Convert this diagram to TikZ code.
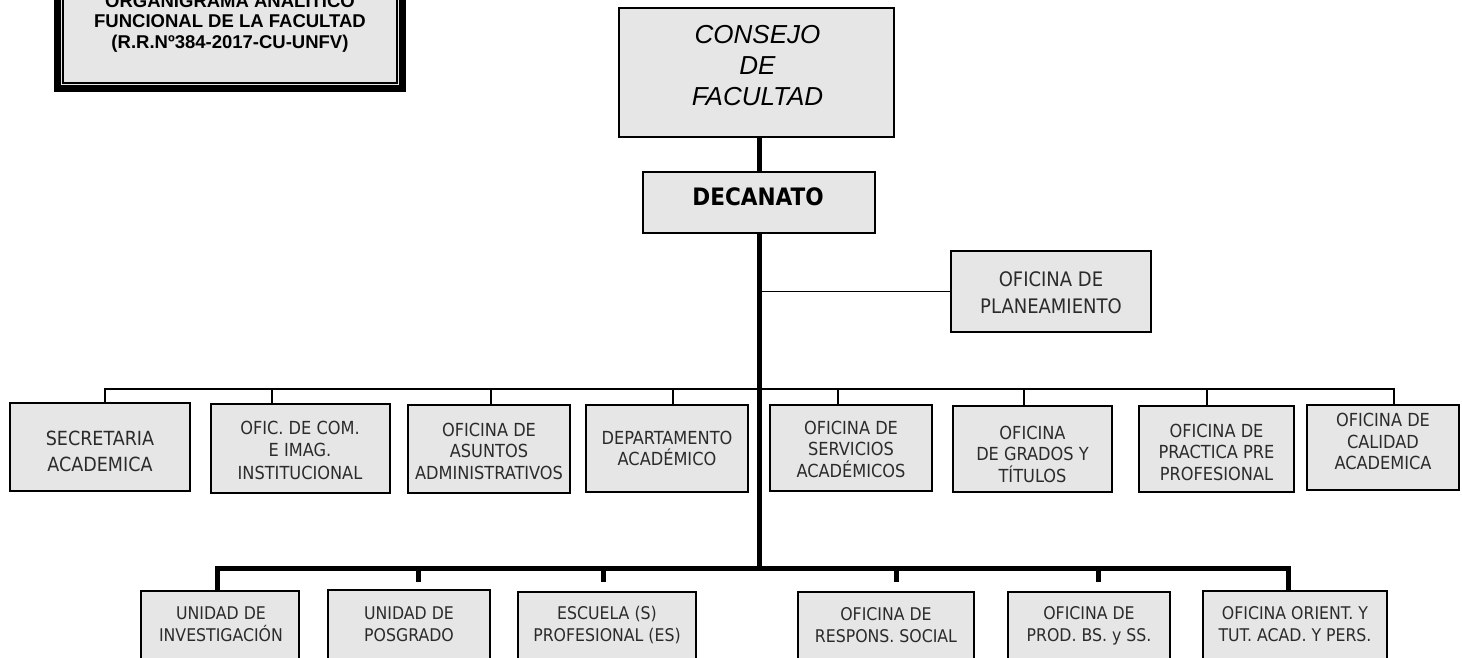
\documentclass[tikz,border=0pt]{standalone}
\usepackage{fontspec}
\setmainfont{Liberation Sans}
\newfontfamily\boxfont{DejaVu Sans Condensed}
\definecolor{boxgray}{HTML}{E6E6E6}
\definecolor{txtgray}{HTML}{2B2B2B}
\newcommand\orgbox[5]{\node[box, minimum width={(#4)-(#2)}, minimum height={(#5)-(#3)}] (#1) at ({((#2)+(#4))/2},{((#3)+(#5))/2}) {};}
\begin{document}
\begin{tikzpicture}[x=1pt,y=-1pt,
  box/.style={draw=black, line width=2.6pt, fill=boxgray, inner sep=0pt},
  lbl/.style={font={\boxfont\fontsize{18}{21.5}\selectfont}, text=txtgray, align=center, inner sep=0pt},
  lowlbl/.style={lbl, font={\boxfont\fontsize{17.5}{22}\selectfont}},
  thinline/.style={line width=1.4pt},
  thickline/.style={line width=5pt}]
\useasboundingbox (0,0) rectangle (1462,657);

% ---------- connector coordinates ----------
\coordinate (ubL) at (105,389);
\coordinate (ubR) at (1394,389);
\coordinate (busL) at (217,568);
\coordinate (busR) at (1288,568);
\coordinate (d2) at (272,389);
\coordinate (d3) at (491,389);
\coordinate (d4) at (673,389);
\coordinate (d5) at (838,389);
\coordinate (d6) at (1024,389);
\coordinate (d7) at (1207,389);
\coordinate (st2) at (418,582);
\coordinate (st3) at (603,582);
\coordinate (st4) at (896,582);
\coordinate (st5) at (1098,582);

% ---------- title ----------
\node[draw=black, line width=7pt, fill=boxgray, inner sep=0pt, minimum width=345, minimum height=120] (title) at (230,28.5) {};
\draw[line width=1.5pt] (63,-40) rectangle (397,83);
\node[font={\bfseries\fontsize{18.5}{20.5}\selectfont}, align=center, inner sep=0pt] (titletext) at (230,23) {ORGANIGRAMA ANALITICO\\FUNCIONAL DE LA FACULTAD\\(R.R.Nº384-2017-CU-UNFV)};

% ---------- top boxes ----------
\orgbox{consejo}{619}{8}{894}{137}
\node[font={\itshape\fontsize{26}{31}\selectfont}, align=center, inner sep=0pt] (consejot) at (757.5,65.5) {CONSEJO\\DE\\FACULTAD};
\orgbox{decanato}{643}{172}{875}{233}
\node[lbl, font={\boxfont\bfseries\fontsize{24}{28}\selectfont}, text=black] (decanatot) at (758,197) {DECANATO};
\orgbox{plan}{951}{251}{1151}{332}
\node[lbl, font={\boxfont\fontsize{20}{27}\selectfont}] (plant) at (1051,292.5) {OFICINA DE\\PLANEAMIENTO};

% ---------- upper row ----------
\orgbox{s1}{10}{403}{190}{491}
\orgbox{s2}{211}{404}{390}{493}
\orgbox{s3}{408}{405}{570}{493}
\orgbox{s4}{586}{405}{748}{492}
\orgbox{s5}{770}{405}{932}{491}
\orgbox{s6}{953}{406}{1112}{492}
\orgbox{s7}{1139}{406}{1294}{492}
\orgbox{s8}{1307}{405}{1459}{490}

% ---------- lower row ----------
\orgbox{a}{141}{591}{299}{700}
\orgbox{b}{328}{590}{490}{700}
\orgbox{c}{518}{592}{696}{700}
\orgbox{d}{798}{592}{974}{700}
\orgbox{e}{1008}{592}{1170}{700}
\orgbox{f}{1203}{591}{1387}{700}

% ---------- connectors ----------
\draw[thickline] (decanato.north |- consejo.south) -- (decanato.north);
\draw[thickline] (decanato.south) -- (decanato.south |- busL);
\draw[thinline] (plan.west) -- (plan.west -| decanato.south);
\draw[thinline] (s1.north -| ubL) |- (ubR) -- (s8.north -| ubR);
\foreach \i in {2,...,7} { \draw[thinline] (d\i) -- (s\i.north -| d\i); }
\draw[thickline] (a.north -| busL) |- (busR) -- (f.north -| busR);
\foreach \i in {2,...,5} { \draw[thickline] (st\i |- busL) -- (st\i); }

% ---------- labels ----------
\node[lbl, font={\boxfont\fontsize{19.5}{26}\selectfont}] (s1t) at (100,451) {SECRETARIA\\ACADEMICA};
\node[lbl, font={\boxfont\fontsize{18}{22.5}\selectfont}] (s2t) at (300,450) {OFIC. DE COM.\\E IMAG.\\INSTITUCIONAL};
\node[lbl] (s3t) at (489,451) {OFICINA DE\\ASUNTOS\\ADMINISTRATIVOS};
\node[lbl] (s4t) at (667,448.5) {DEPARTAMENTO\\ACADÉMICO};
\node[lbl] (s5t) at (851,449) {OFICINA DE\\SERVICIOS\\ACADÉMICOS};
\node[lbl] (s6t) at (1032.5,454) {OFICINA\\DE GRADOS Y\\TÍTULOS};
\node[lbl] (s7t) at (1216.5,452) {OFICINA DE\\PRACTICA PRE\\PROFESIONAL};
\node[lbl] (s8t) at (1383,441.5) {OFICINA DE\\CALIDAD\\ACADEMICA};

\node[lowlbl] (at) at (221,624.5) {UNIDAD DE\\INVESTIGACIÓN};
\node[lowlbl] (bt) at (409,624.5) {UNIDAD DE\\POSGRADO};
\node[lowlbl] (ct) at (607,625.5) {ESCUELA (S)\\PROFESIONAL (ES)};
\node[lowlbl] (dt) at (886,625.5) {OFICINA DE\\RESPONS. SOCIAL};
\node[lowlbl] (et) at (1089,625.5) {OFICINA DE\\PROD. BS. y SS.};
\node[lowlbl] (ft) at (1295,624) {OFICINA ORIENT. Y\\TUT. ACAD. Y PERS.};
\end{tikzpicture}
\end{document}
